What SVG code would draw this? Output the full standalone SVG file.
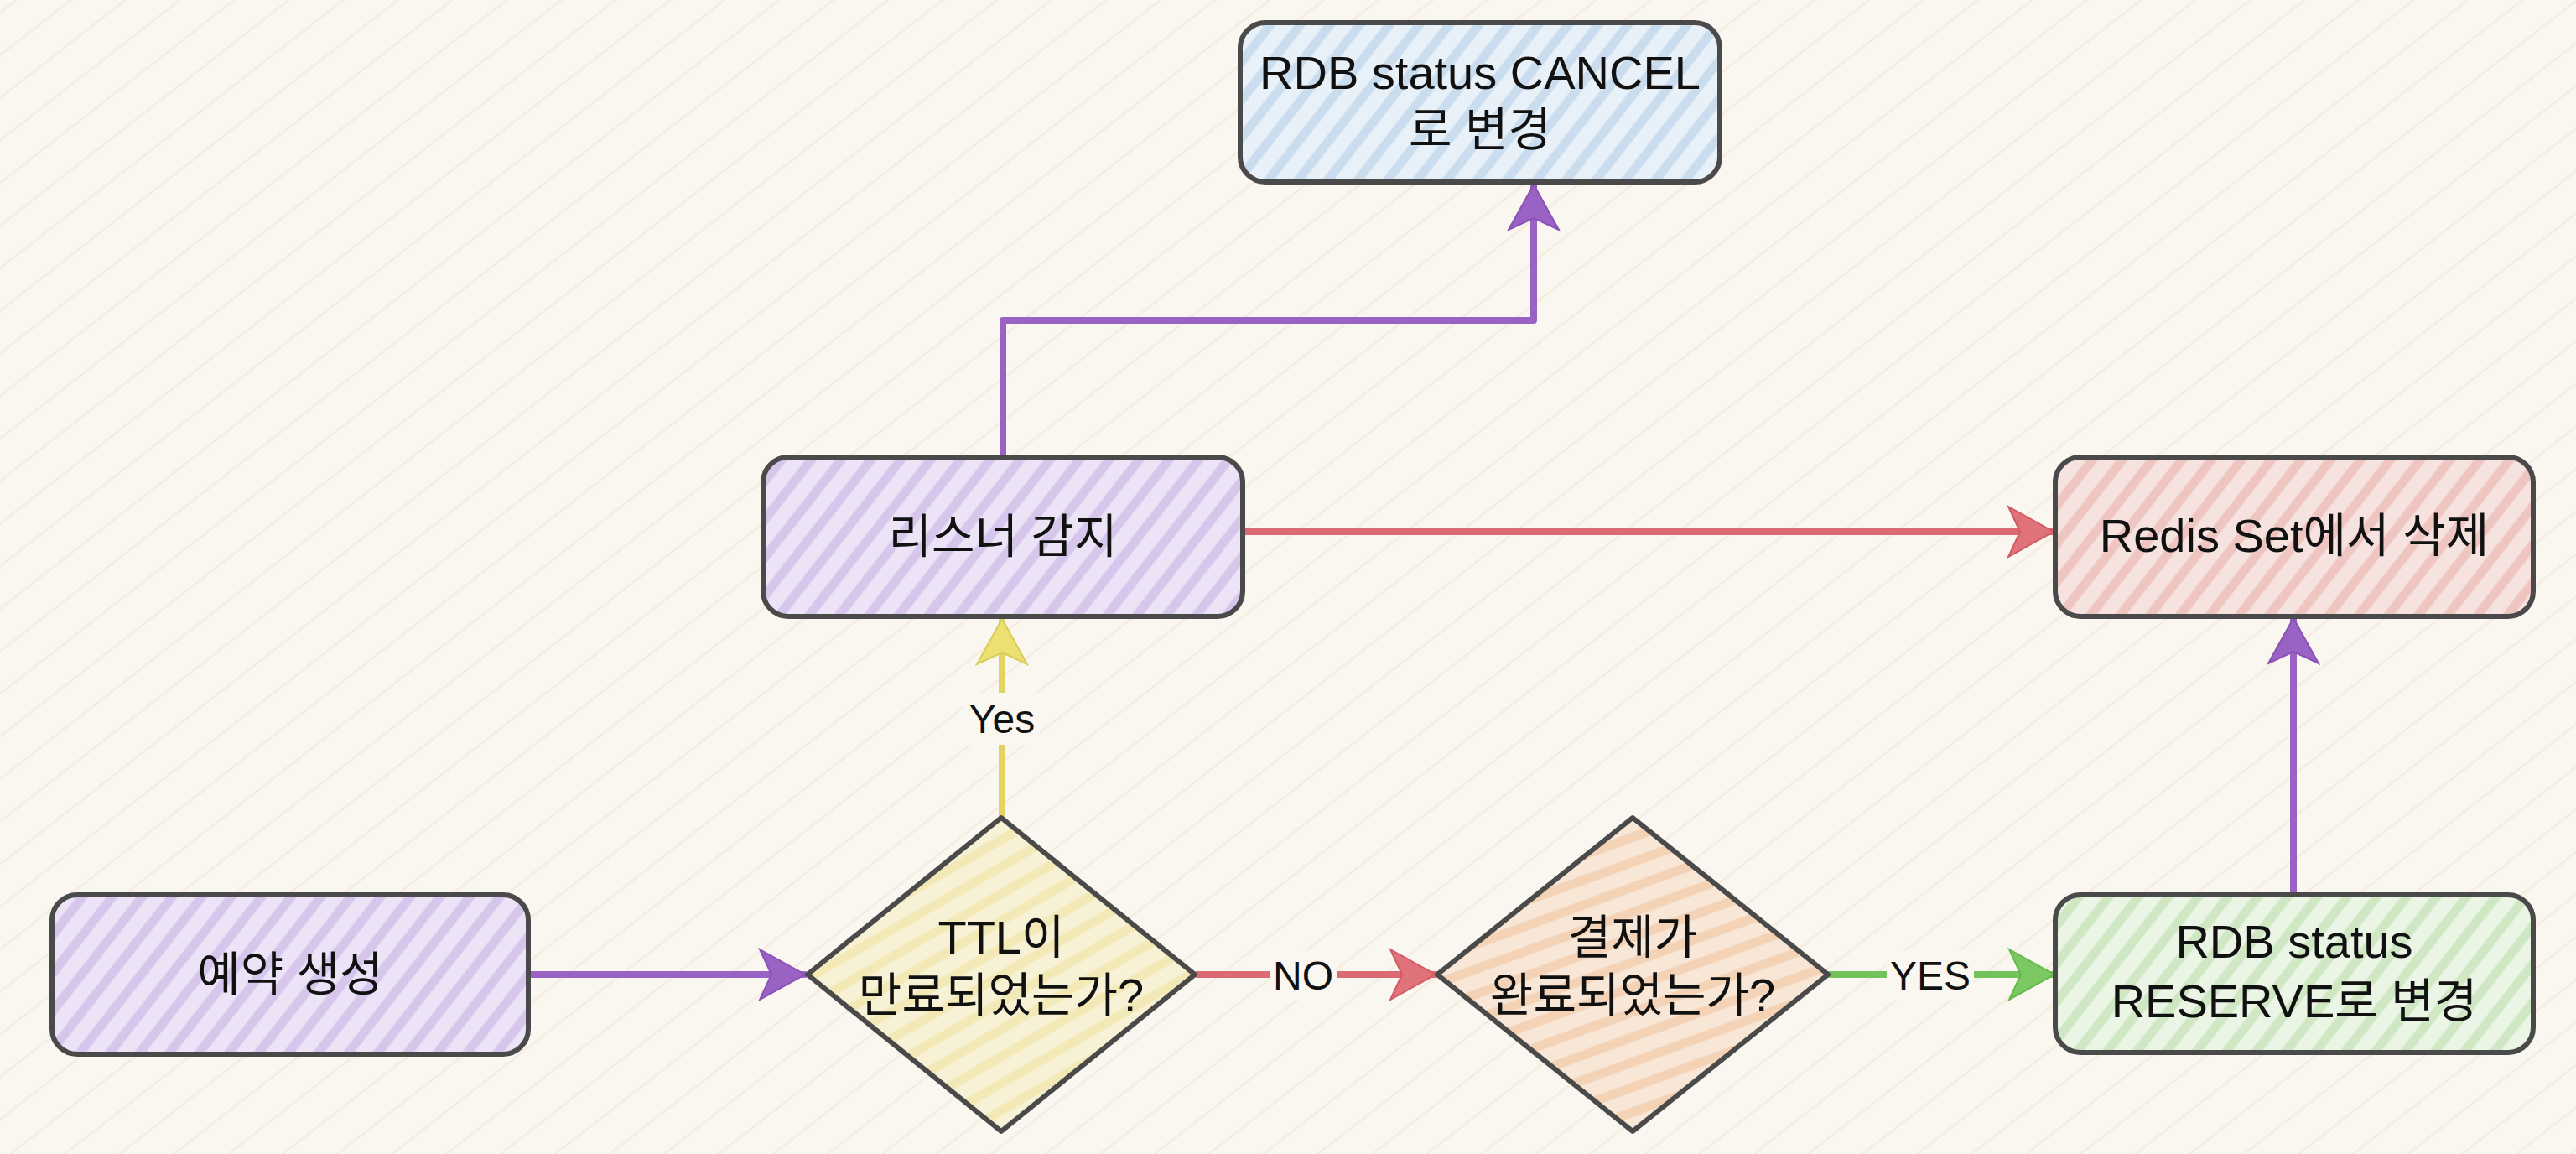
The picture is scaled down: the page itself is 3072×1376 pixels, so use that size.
<svg xmlns="http://www.w3.org/2000/svg" width="3072" height="1376" viewBox="0 0 3072 1376">
<defs>
<pattern id="bgHatch" width="40" height="40" patternUnits="userSpaceOnUse" patternTransform="rotate(-38)">
<rect width="40" height="40" fill="#f9f7f0"/>
<line x1="0" y1="12" x2="40" y2="12" stroke="#f2cfb6" stroke-width="2.5" opacity="0.3"/>
</pattern>
<pattern id="hPurple" width="28" height="28" patternUnits="userSpaceOnUse" patternTransform="rotate(-52)">
<rect width="28" height="28" fill="#ece3f6"/>
<line x1="0" y1="8" x2="28" y2="8" stroke="#c9b3e6" stroke-width="11" opacity="0.6"/>
</pattern>
<pattern id="hBlue" width="28" height="28" patternUnits="userSpaceOnUse" patternTransform="rotate(-52)">
<rect width="28" height="28" fill="#e9f1f8"/>
<line x1="0" y1="8" x2="28" y2="8" stroke="#b6d1ea" stroke-width="11" opacity="0.6"/>
</pattern>
<pattern id="hRed" width="28" height="28" patternUnits="userSpaceOnUse" patternTransform="rotate(-52)">
<rect width="28" height="28" fill="#f6e2df"/>
<line x1="0" y1="8" x2="28" y2="8" stroke="#ebb2af" stroke-width="11" opacity="0.6"/>
</pattern>
<pattern id="hGreen" width="28" height="28" patternUnits="userSpaceOnUse" patternTransform="rotate(-52)">
<rect width="28" height="28" fill="#ebf5e6"/>
<line x1="0" y1="8" x2="28" y2="8" stroke="#bce0ab" stroke-width="11" opacity="0.6"/>
</pattern>
<pattern id="hYellow" width="28" height="28" patternUnits="userSpaceOnUse" patternTransform="rotate(-30)">
<rect width="28" height="28" fill="#f7f2d6"/>
<line x1="0" y1="8" x2="28" y2="8" stroke="#efe3a0" stroke-width="11" opacity="0.6"/>
</pattern>
<pattern id="hOrange" width="28" height="28" patternUnits="userSpaceOnUse" patternTransform="rotate(-20)">
<rect width="28" height="28" fill="#f8e6d6"/>
<line x1="0" y1="8" x2="28" y2="8" stroke="#f0c49e" stroke-width="11" opacity="0.6"/>
</pattern>
<marker id="aPurple" markerUnits="userSpaceOnUse" markerWidth="60" markerHeight="64" refX="56" refY="32" orient="auto">
<path d="M2,2 L56,32 L2,62 L16,32 Z" fill="#9a62c4" stroke="#8a52b4" stroke-width="2"/>
</marker>
<marker id="aRed" markerUnits="userSpaceOnUse" markerWidth="60" markerHeight="64" refX="56" refY="32" orient="auto">
<path d="M2,2 L56,32 L2,62 L16,32 Z" fill="#e0727a" stroke="#d25a64" stroke-width="2"/>
</marker>
<marker id="aGreen" markerUnits="userSpaceOnUse" markerWidth="60" markerHeight="64" refX="56" refY="32" orient="auto">
<path d="M2,2 L56,32 L2,62 L16,32 Z" fill="#7cc862" stroke="#66b84c" stroke-width="2"/>
</marker>
<marker id="aYellow" markerUnits="userSpaceOnUse" markerWidth="60" markerHeight="64" refX="56" refY="32" orient="auto">
<path d="M2,2 L56,32 L2,62 L16,32 Z" fill="#ece070" stroke="#d8cc5a" stroke-width="2"/>
</marker>
</defs>
<style>
.box{stroke:#4a4a4a;stroke-width:6;stroke-linejoin:round}
.t{font-family:"Liberation Sans","Noto Sans CJK KR",sans-serif;font-size:56px;fill:#111;text-anchor:middle}
.lbl{font-family:"Liberation Sans","Noto Sans CJK KR",sans-serif;font-size:48px;fill:#111;text-anchor:middle}
.c{fill:none;stroke-width:8;stroke-linecap:round;stroke-linejoin:round}
.lblbg{fill:#f9f7f0}
</style>
<rect width="3072" height="1376" fill="url(#bgHatch)"/>

<g id="connectors">
<line class="c" x1="632" y1="1162" x2="960" y2="1162" stroke="#9a62c4" marker-end="url(#aPurple)"/>
<line class="c" x1="1428" y1="1162" x2="1712" y2="1162" stroke="#dc6a72" marker-end="url(#aRed)"/>
<line class="c" x1="2182" y1="1162" x2="2450" y2="1162" stroke="#74c25a" marker-end="url(#aGreen)"/>
<line class="c" x1="1195" y1="973" x2="1195" y2="738" stroke="#e2d462" marker-end="url(#aYellow)"/>
<path class="c" d="M1196,543 L1196,382 L1829,382 L1829,220" stroke="#9a62c4" marker-end="url(#aPurple)"/>
<line class="c" x1="1484" y1="634" x2="2449" y2="634" stroke="#dc6a72" marker-end="url(#aRed)"/>
<line class="c" x1="2735" y1="1065" x2="2735" y2="737" stroke="#9a62c4" marker-end="url(#aPurple)"/>
<g id="label-yes">
<rect class="lblbg" x="1150" y="826" width="90" height="62"/>
<text class="lbl" x="1195" y="874">Yes</text>
</g>
<g id="label-no">
<rect class="lblbg" x="1514" y="1134" width="80" height="58"/>
<text class="lbl" x="1554" y="1180">NO</text>
</g>
<g id="label-yes2">
<rect class="lblbg" x="2250" y="1134" width="104" height="58"/>
<text class="lbl" x="2302" y="1180">YES</text>
</g>
</g>

<g id="node-cancel">
<rect class="box" x="1479" y="27" width="572" height="190" rx="30" fill="url(#hBlue)"/>
<text class="t" x="1765" y="106">RDB status CANCEL</text>
<text class="t" x="1765" y="174">로 변경</text>
</g>
<g id="node-listener">
<rect class="box" x="910" y="545" width="572" height="190" rx="30" fill="url(#hPurple)"/>
<text class="t" x="1196" y="659">리스너 감지</text>
</g>
<g id="node-redis">
<rect class="box" x="2451" y="545" width="570" height="190" rx="30" fill="url(#hRed)"/>
<text class="t" x="2736" y="658">Redis Set에서 삭제</text>
</g>
<g id="node-reserve-create">
<rect class="box" x="62" y="1067" width="568" height="190" rx="30" fill="url(#hPurple)"/>
<text class="t" x="346" y="1181">예약 생성</text>
</g>
<g id="node-ttl">
<polygon class="box" points="1194,975 1425,1162 1194,1349 963,1162" fill="url(#hYellow)"/>
<text class="t" x="1194" y="1137">TTL이</text>
<text class="t" x="1194" y="1206">만료되었는가?</text>
</g>
<g id="node-payment">
<polygon class="box" points="1947,975 2180,1162 1947,1349 1714,1162" fill="url(#hOrange)"/>
<text class="t" x="1947" y="1137">결제가</text>
<text class="t" x="1947" y="1206">완료되었는가?</text>
</g>
<g id="node-reserve">
<rect class="box" x="2451" y="1067" width="570" height="188" rx="30" fill="url(#hGreen)"/>
<text class="t" x="2736" y="1142">RDB status</text>
<text class="t" x="2736" y="1213">RESERVE로 변경</text>
</g>
</svg>
